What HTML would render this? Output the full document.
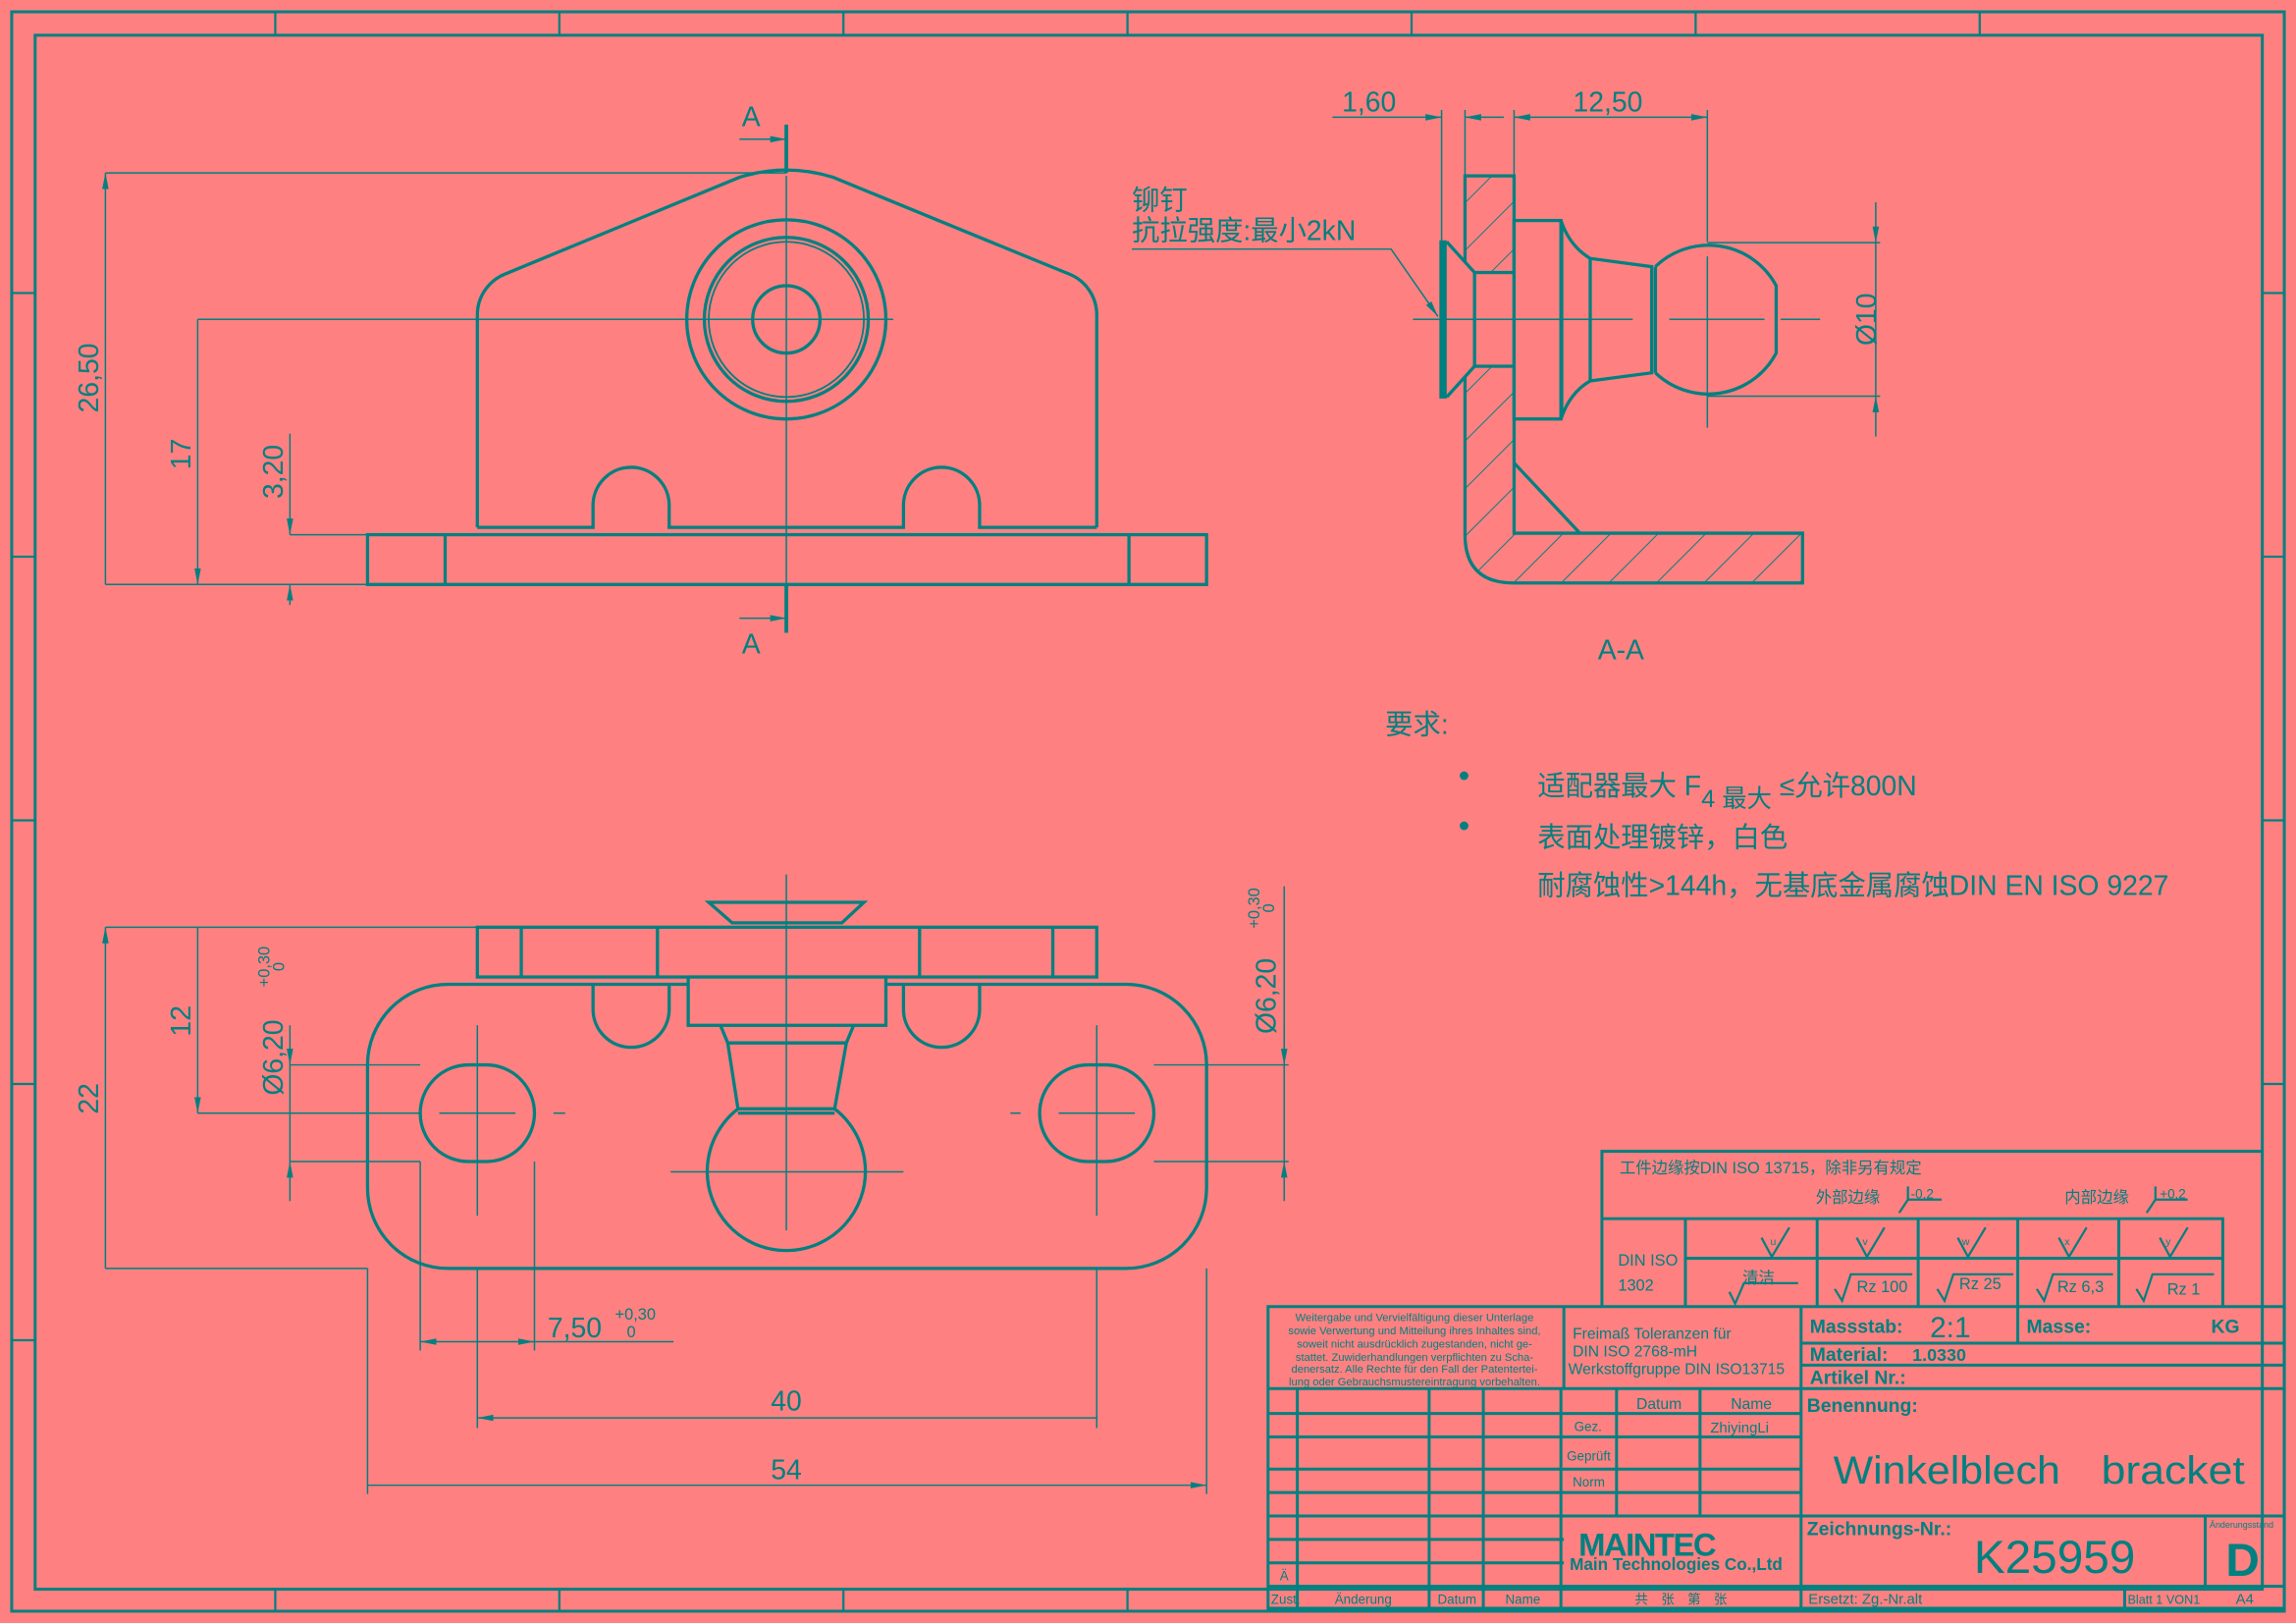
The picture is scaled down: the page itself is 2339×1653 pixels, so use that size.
<!DOCTYPE html>
<html><head><meta charset="utf-8"><style>
html,body{margin:0;padding:0;background:#FF8080;}
svg{display:block}
text{font-family:"Liberation Sans","Noto Sans CJK SC",sans-serif;fill:#008080}
</style></head><body>
<svg width="2339" height="1653" viewBox="0 0 1568 1108" xmlns="http://www.w3.org/2000/svg">
<defs>
<marker id="a" viewBox="0 0 10 4" refX="10" refY="2" markerWidth="11" markerHeight="4.5" orient="auto-start-reverse" markerUnits="userSpaceOnUse"><path d="M0,0L10,2L0,4z" fill="#008080"/></marker>
<pattern id="h" patternUnits="userSpaceOnUse" width="23" height="23" patternTransform="rotate(45)"><line x1="0" y1="0" x2="0" y2="23" stroke="#008080" stroke-width="1.3"/></pattern>
</defs>
<rect width="1568" height="1108" fill="#FF8080"/>
<g fill="none" stroke="#008080">
<!-- frame -->
<rect x="8" y="8" width="1552" height="1092" stroke-width="2"/>
<rect x="24" y="24" width="1521" height="1061" stroke-width="2"/>
<g stroke-width="1.5">
<path d="M188,8V24M382,8V24M576,8V24M770,8V24M964,8V24M1158,8V24M1352,8V24"/>
<path d="M188,1085V1100M382,1085V1100M576,1085V1100M770,1085V1100"/>
<path d="M8,200H24M8,380H24M8,560H24M8,740H24M8,915H24"/>
<path d="M1545,200H1560M1545,380H1560M1545,560H1560M1545,740H1560"/>
</g>

<!-- ===== Top-left view ===== -->
<g stroke-width="2.2">
<rect x="251" y="365" width="573" height="34"/>
<path d="M304,365V399M771,365V399"/>
<path d="M326,360V215A30,30 0 0 1 345,187L505,121Q537,111 569,121L730,187A30,30 0 0 1 749,215V360"/>
<path d="M326,360H405V345A26,26 0 0 1 457,345V360H617V345A26,26 0 0 1 669,345V360H749"/>
<circle cx="537" cy="218" r="68"/>
<circle cx="537" cy="218" r="56"/>
<circle cx="537" cy="218" r="53" stroke-width="1.2"/>
<circle cx="537" cy="218" r="23"/>
</g>
<g stroke-width="1">
<path d="M537,120V430M465,218H610"/>
<path d="M72,118H537M135,218H470M72,399H251M198,365H251M198,399H251"/>
<path d="M72,118V399M135,218V399" marker-start="url(#a)" marker-end="url(#a)"/>
<path d="M198,296V365" marker-end="url(#a)"/>
<path d="M198,413V399" marker-end="url(#a)"/>
<path d="M505,95H537" marker-end="url(#a)"/>
<path d="M505,422H537" marker-end="url(#a)"/>
</g>
<path d="M537,85V118M537,400V432" stroke-width="2.5"/>

<!-- ===== Section A-A ===== -->
<path d="M1000.5,120H1034V364H1231V398H1034Q1000.5,398 1000.5,365Z" fill="url(#h)" stroke-width="2.2"/>
<path d="M988,165L1007,186H1034V250H1007L988,271Z" fill="#FF8080" stroke="none"/>
<g stroke-width="2.2">
<path d="M988,165L1007,186M988,271L1007,250"/>
<rect x="1007" y="186" width="27" height="64"/>
<path d="M985.5,164V272" stroke-width="5"/>
<path d="M1034,316L1079,364"/>
<rect x="1034" y="150.5" width="32" height="135.5" fill="#FF8080"/>
<path d="M1066,150.5Q1072,168 1086,176.4L1128,182V254.5L1086,260Q1072,268 1066,286"/>
<path d="M1067,153V283" stroke-width="1.3"/>
<path d="M1086,176V260M1130.5,182V254.5"/>
<path d="M1130.5,182A52.4,52.4 0 0 1 1213,195V241A52.4,52.4 0 0 1 1130.5,254.5"/>
</g>
<g stroke-width="1">
<path d="M965,218H1115M1140,218H1205M1216,218H1243M1166,175V292"/>
<path d="M1166,165.6H1284M1166,270.4H1284"/>
<path d="M1281,138V165.6" marker-end="url(#a)"/>
<path d="M1281,298V270.4" marker-end="url(#a)"/>
<path d="M1281,165.6V270.4"/>
<path d="M984.5,75V164M1000.5,75V120M1034,75V120M1166,75V165"/>
<path d="M910,80H984.5" marker-end="url(#a)"/>
<path d="M1027,80H1000.5" marker-end="url(#a)"/>
<path d="M1034,80H1166" marker-start="url(#a)" marker-end="url(#a)"/>
<path d="M773,170H950L982,216" marker-end="url(#a)"/>
</g>

<!-- ===== Bottom view ===== -->
<g stroke-width="2.2">
<rect x="251" y="672" width="573" height="194" rx="55"/>
<rect x="326" y="633" width="423" height="34" fill="#FF8080"/>
<path d="M356,633V667M449,633V667M628,633V667M719,633V667"/>
<path d="M405,672V689A26,26 0 0 0 457,689V672M617,672V689A26,26 0 0 0 669,689V672"/>
<path d="M484,616H590L575,630H500Z"/>
<rect x="470" y="667" width="135" height="33" fill="#FF8080"/>
<path d="M492,700L497,712H578L583,700M497,712L504,757H570L578,712M504,760H570"/>
<path d="M504,757A54,54 0 1 0 570,757"/>
<rect x="287" y="727" width="78" height="66" rx="33"/>
<rect x="710" y="727" width="78" height="66" rx="33"/>
</g>
<g stroke-width="1">
<path d="M537,597V840M458,800H617"/>
<path d="M300,760H352M378,760H386M690,760H697M723,760H775M326,700V830M749,700V830"/>
<path d="M72,633H326M72,866H251M135,760H287M198,727H287M198,793H287"/>
<path d="M72,633V866M135,633V760" marker-start="url(#a)" marker-end="url(#a)"/>
<path d="M198,700V727" marker-end="url(#a)"/>
<path d="M198,820V793" marker-end="url(#a)"/>
<path d="M198,727V793"/>
<path d="M788,727H880M788,793H880M877,605V727" />
<path d="M877,700V727" marker-end="url(#a)"/>
<path d="M877,820V793" marker-end="url(#a)"/>
<path d="M877,727V793"/>
<path d="M287,793V922M365,793V922M326,866V975M749,866V975M251,866V1020M824,866V1020"/>
<path d="M287,916H365" marker-start="url(#a)" marker-end="url(#a)"/>
<path d="M365,916H460"/>
<path d="M326,968H749M251,1014H824" marker-start="url(#a)" marker-end="url(#a)"/>
</g>

<!-- ===== Tolerance table ===== -->
<g stroke-width="2">
<path d="M1094,892V786H1545"/>
<path d="M1094,832H1518V892M1151,832V892M1241,832V892M1310,832V892M1378,832V892M1447,832V892M1151,859H1518"/>
</g>
<g stroke-width="1.5">
<path d="M1203,845L1210,858L1222,838M1268,845L1275,858L1287,838M1337,845L1344,858L1356,838M1406,845L1413,858L1425,838M1475,845L1482,858L1494,838"/>
<path d="M1181,882L1185,890L1191,876H1228M1253,880L1258,888L1264,870H1306M1323,880L1328,888L1334,870H1375M1391,880L1396,888L1402,870H1443M1459,880L1464,888L1470,870H1512"/>
<path d="M1297,828L1303,819V810M1303,819H1326M1466,828L1472,819V810M1472,819H1494"/>
</g>

<!-- ===== Title block ===== -->
<g stroke-width="2">
<path d="M866,892H1560V1098H866Z"/>
<path d="M1068,892V948M1230,892V1098M1378,892V917M1230,917H1560M1230,932H1560M866,948H1560M1230,1035H1560M1506,1035V1083M866,1083H1560M1451,1083V1098"/>
<path d="M866,965H1230M866,981H1230M866,1003H1230M866,1019H1230M866,1035H1230M866,1051H1068M866,1067H1068"/>
<path d="M886,948V1098M976,948V1098M1013,948V1098M1066,948V1098M1104,948V1035M1161,948V1035"/>
</g>
</g>

<!-- ===== texts ===== -->
<g font-size="19">
<text x="513" y="86" text-anchor="middle">A</text>
<text x="513" y="446" text-anchor="middle">A</text>
<text transform="translate(67,258) rotate(-90)" text-anchor="middle">26,50</text>
<text transform="translate(130,310) rotate(-90)" text-anchor="middle">17</text>
<text transform="translate(193,322) rotate(-90)" text-anchor="middle">3,20</text>
<text x="935" y="76" text-anchor="middle">1,60</text>
<text x="1098" y="76" text-anchor="middle">12,50</text>
<text transform="translate(1281,218) rotate(-90)" text-anchor="middle">Ø10</text>
<text x="1107" y="450" text-anchor="middle">A-A</text>
<text x="773" y="143">铆钉</text>
<text x="773" y="164">抗拉强度:最小2kN</text>
<text x="946" y="501">要求:</text>
<text x="1050" y="543">适配器最大 F<tspan font-size="17" dy="8">4 最大</tspan><tspan dy="-8"> ≤允许800N</tspan></text>
<text x="1050" y="578">表面处理镀锌，白色</text>
<text x="1050" y="611">耐腐蚀性&gt;144h，无基底金属腐蚀DIN EN ISO 9227</text>
<text x="996" y="537" font-size="22">•</text>
<text x="996" y="571" font-size="22">•</text>
<text transform="translate(67,750) rotate(-90)" text-anchor="middle">22</text>
<text transform="translate(130,697) rotate(-90)" text-anchor="middle">12</text>
<text transform="translate(193,722) rotate(-90)" text-anchor="middle">Ø6,20</text>
<text transform="translate(184,660) rotate(-90)" font-size="11" text-anchor="middle">+0,30</text>
<text transform="translate(194,660) rotate(-90)" font-size="11" text-anchor="middle">0</text>
<text transform="translate(871,680) rotate(-90)" text-anchor="middle">Ø6,20</text>
<text transform="translate(860,620) rotate(-90)" font-size="11" text-anchor="middle">+0,30</text>
<text transform="translate(870,620) rotate(-90)" font-size="11" text-anchor="middle">0</text>
<text x="374" y="913">7,50</text>
<text x="420" y="901" font-size="11">+0,30</text>
<text x="428" y="913" font-size="11">0</text>
<text x="537" y="963" text-anchor="middle">40</text>
<text x="537" y="1010" text-anchor="middle">54</text>
</g>
<g font-size="11">
<text x="1106" y="801">工件边缘按DIN ISO 13715，除非另有规定</text>
<text x="1240" y="821">外部边缘</text>
<text x="1305" y="818" font-size="9">-0,2</text>
<text x="1410" y="821">内部边缘</text>
<text x="1475" y="818" font-size="9">+0,2</text>
<text x="1105" y="864">DIN ISO</text>
<text x="1105" y="881">1302</text>
<text x="1190" y="876">清洁</text>
<text x="1268" y="882">Rz 100</text>
<text x="1338" y="880">Rz 25</text>
<text x="1405" y="882">Rz 6,3</text>
<text x="1480" y="884">Rz 1</text>
<text x="1209" y="850" font-size="7">u</text>
<text x="1272" y="850" font-size="7">v</text>
<text x="1340" y="850" font-size="7">w</text>
<text x="1410" y="850" font-size="7">x</text>
<text x="1479" y="850" font-size="7">y</text>
</g>
<g font-size="7.5" text-anchor="middle">
<text x="966" y="902">Weitergabe und Vervielfältigung dieser Unterlage</text>
<text x="966" y="911">sowie Verwertung und Mitteilung ihres Inhaltes sind,</text>
<text x="966" y="920">soweit nicht ausdrücklich zugestanden, nicht ge-</text>
<text x="966" y="929">stattet. Zuwiderhandlungen verpflichten zu Scha-</text>
<text x="966" y="937">denersatz. Alle Rechte für den Fall der Patentertei-</text>
<text x="966" y="946">lung oder Gebrauchsmustereintragung vorbehalten.</text>
</g>
<g font-size="10.5">
<text x="1074" y="914">Freimaß Toleranzen für</text>
<text x="1074" y="926">DIN ISO 2768-mH</text>
<text x="1071" y="938">Werkstoffgruppe DIN ISO13715</text>
<text x="1133" y="962" text-anchor="middle">Datum</text>
<text x="1196" y="962" text-anchor="middle">Name</text>
<text x="1075" y="977" font-size="9">Gez.</text>
<text x="1168" y="978" font-family="Liberation Mono" font-size="10">ZhiyingLi</text>
<text x="1070" y="997" font-size="9">Geprüft</text>
<text x="1074" y="1015" font-size="9">Norm</text>
<text x="874" y="1079" font-size="9">Ä</text>
<text x="868" y="1095" font-size="9">Zust.</text>
<text x="931" y="1095" font-size="9" text-anchor="middle">Änderung</text>
<text x="995" y="1095" font-size="9" text-anchor="middle">Datum</text>
<text x="1040" y="1095" font-size="9" text-anchor="middle">Name</text>
<text x="1148" y="1095" font-size="9" text-anchor="middle">共　张　第　张</text>
<text x="1235" y="1095" font-size="10">Ersetzt: Zg.-Nr.alt</text>
<text x="1453" y="1095" font-size="8.5">Blatt 1 VON1</text>
<text x="1533" y="1095" font-size="10" text-anchor="middle">A4</text>
<text x="1509" y="1043" font-size="6">Änderungsstand</text>
</g>
<g font-weight="bold" font-size="13">
<text x="1236" y="910">Massstab:</text>
<text x="1384" y="910">Masse:</text>
<text x="1510" y="910">KG</text>
<text x="1236" y="929">Material:</text>
<text x="1306" y="929" font-size="12">1.0330</text>
<text x="1236" y="945">Artikel Nr.:</text>
<text x="1234" y="964">Benennung:</text>
<text x="1234" y="1048">Zeichnungs-Nr.:</text>
</g>
<text x="1318" y="913" font-size="20">2:1</text>
<text x="1252" y="1013" font-size="27" textLength="155" lengthAdjust="spacingAndGlyphs">Winkelblech</text>
<text x="1435" y="1013" font-size="27" textLength="98" lengthAdjust="spacingAndGlyphs">bracket</text>
<text x="1348" y="1074" font-size="32">K25959</text>
<text x="1520" y="1076" font-size="32" font-weight="bold">D</text>
<text x="1078" y="1062" font-size="22" font-weight="bold" letter-spacing="-1">MAINTEC</text>
<text x="1072" y="1072" font-size="11.5" font-weight="bold">Main Technologies Co.,Ltd</text>
</svg>
</body></html>
